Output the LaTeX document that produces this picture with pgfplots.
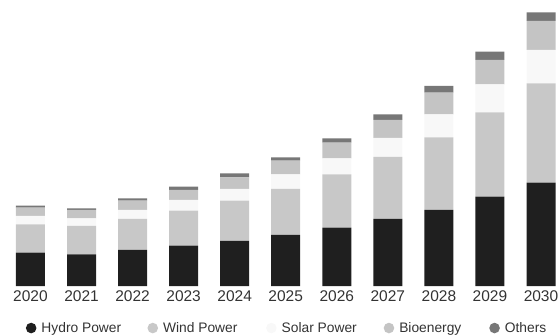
\documentclass[border=0pt]{standalone}
\usepackage{pgfplots}
\usepackage{pgfplotstable}
\pgfplotsset{compat=1.18}
\usepackage{fontspec}
\setmainfont{Liberation Sans}

\definecolor{hydro}{HTML}{1F1F1F}
\definecolor{wind}{HTML}{C8C8C8}
\definecolor{solar}{HTML}{F8F8F8}
\definecolor{bio}{HTML}{C4C4C4}
\definecolor{others}{HTML}{777777}
\definecolor{txt}{HTML}{333333}

% Generation by source, per year (index 0 = 2020)
\pgfplotstableread{
idx hydro wind solar bio others
0   33.3  28.4  8.3   8.3  2.0
1   31.7  28.3  7.7   8.3  1.7
2   36.0  31.0  9.0   9.3  2.4
3   40.3  35.0  10.7  10.0 3.3
4   45.0  40.3  11.7  11.7 4.0
5   51.0  46.0  14.7  13.6 3.4
6   58.3  53.4  16.0  15.6 4.4
7   67.0  62.0  19.0  18.0 5.7
8   76.0  72.7  23.0  21.6 6.7
9   89.3  84.4  28.0  24.3 8.3
10  103.3 99.4  33.3  29.0 8.7
}\datatable

\begin{document}
\begin{tikzpicture}
\path[use as bounding box] (0pt,-49pt) rectangle (558pt,286pt);
\begin{axis}[
  at={(0pt,0pt)}, anchor=south west,
  scale only axis,
  width=558pt, height=286pt,
  xmin=-0.597, xmax=10.333,
  ymin=0, ymax=286,
  ybar stacked,
  bar width=29pt,
  axis line style={draw=none},
  xtick=data,
  xticklabels={2020,2021,2022,2023,2024,2025,2026,2027,2028,2029,2030},
  ytick=\empty,
  major tick length=0pt,
  /pgf/number format/assume math mode=true,
  x tick label style={font=\fontsize{15.5}{18}\selectfont, text=txt, anchor=north, yshift=-1.5pt},
  legend columns=5,
  legend style={at={(0.046,-0.147)}, anchor=west, draw=none, fill=none,
    inner sep=0pt, font=\fontsize{13.8}{16}\selectfont, text=txt,
    /tikz/every odd column/.append style={column sep=3pt}},
  legend cell align=left,
  legend image code/.code={\fill[#1,draw=none] (6pt,0pt) circle (5.3pt);},
]
\addplot[fill=hydro, draw=none] table[x=idx, y=hydro] {\datatable};
\addlegendentry{\makebox[104pt][l]{Hydro Power}}
\addplot[fill=wind, draw=none] table[x=idx, y=wind] {\datatable};
\addlegendentry{\makebox[101pt][l]{Wind Power}}
\addplot[fill=solar, draw=none] table[x=idx, y=solar] {\datatable};
\addlegendentry{\makebox[100pt][l]{Solar Power}}
\addplot[fill=bio, draw=none] table[x=idx, y=bio] {\datatable};
\addlegendentry{\makebox[88pt][l]{Bioenergy}}
\addplot[fill=others, draw=none] table[x=idx, y=others] {\datatable};
\addlegendentry{Others}
\end{axis}
\end{tikzpicture}
\end{document}
